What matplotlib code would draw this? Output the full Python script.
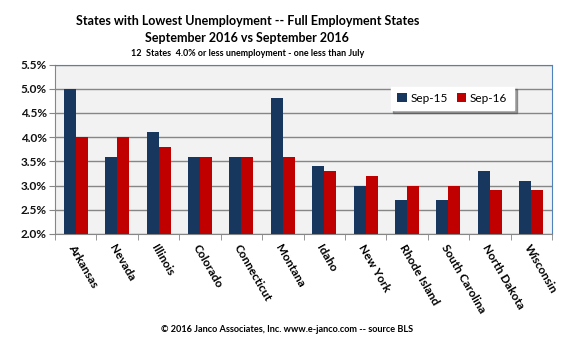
import matplotlib
matplotlib.use("Agg")
import matplotlib.pyplot as plt
import numpy as np
from matplotlib.ticker import FuncFormatter, MultipleLocator

states = ["Arkansas", "Nevada", "Illinois", "Colorado", "Connecticut", "Montana",
          "Idaho", "New York", "Rhode Island", "South Carolina", "North Dakota", "Wisconsin"]
sep15 = [5.0, 3.6, 4.1, 3.6, 3.6, 4.8, 3.4, 3.0, 2.7, 2.7, 3.3, 3.1]
sep16 = [4.0, 4.0, 3.8, 3.6, 3.6, 3.6, 3.3, 3.2, 3.0, 3.0, 2.9, 2.9]

plt.rcParams['font.family'] = ['Lato', 'DejaVu Sans']

fig = plt.figure(figsize=(5.71, 3.48), dpi=100)
ax = fig.add_axes([55 / 571, 1 - 234 / 348, (552 - 55) / 571, (234 - 64.5) / 348])

x = np.arange(len(states))
w = 0.29
ax.bar(x - w / 2, [v - 2 for v in sep15], w, bottom=2, color="#17375E", label="Sep-15", zorder=3)
ax.bar(x + w / 2, [v - 2 for v in sep16], w, bottom=2, color="#C00000", label="Sep-16", zorder=3)

ax.set_ylim(2.0, 5.5)
ax.set_xlim(-0.5, len(states) - 0.5)
ax.set_facecolor("#F2F2F2")
ax.yaxis.set_major_locator(MultipleLocator(0.5))
ax.yaxis.set_major_formatter(FuncFormatter(lambda v, p: f"{v:.1f}%"))
ax.grid(axis="y", color="#868686", linewidth=1.0, zorder=1)

for side in ("top", "right"):
    ax.spines[side].set_color("#4F81BD")
ax.spines["left"].set_color("#868686")
ax.spines["bottom"].set_color("#868686")

ax.set_xticks(x)
ax.set_xticks(np.arange(-0.5, len(states), 1), minor=True)
ax.tick_params(axis="x", which="major", length=0, pad=6)
ax.tick_params(axis="x", which="minor", length=4, color="#868686")
ax.tick_params(axis="y", length=4, color="#868686", labelsize=8.5, pad=2)
ax.set_xticklabels(states, rotation=-60, ha="left", va="top", fontsize=8.5,
                   fontweight="bold", rotation_mode="anchor")
for lab in ax.get_yticklabels():
    lab.set_fontweight("bold")
    lab.set_color("#111111")

leg = ax.legend(loc="upper right", bbox_to_anchor=(0.935, 0.905), ncol=2, fontsize=8.5,
                frameon=True, fancybox=False, shadow=True, handlelength=0.8,
                handleheight=0.8, handletextpad=0.3, columnspacing=0.8,
                borderpad=0.55, edgecolor="white")
leg.get_frame().set_facecolor("white")

fig.text(0.433, 1 - 21 / 348, "States with Lowest Unemployment -- Full Employment States",
         ha="center", va="center", fontsize=9, fontweight="bold")
fig.text(0.433, 1 - 38 / 348, "September 2016 vs September 2016",
         ha="center", va="center", fontsize=9, fontweight="bold")
fig.text(0.433, 1 - 54 / 348, "12  States  4.0% or less unemployment - one less than July",
         ha="center", va="center", fontsize=6.5, fontweight="bold")
fig.text(0.502, 1 - 329 / 348, "\u00a9 2016 Janco Associates, Inc. www.e-janco.com -- source BLS",
         ha="center", va="center", fontsize=6.6, fontweight="bold")

fig.savefig("out.png", dpi=100)
